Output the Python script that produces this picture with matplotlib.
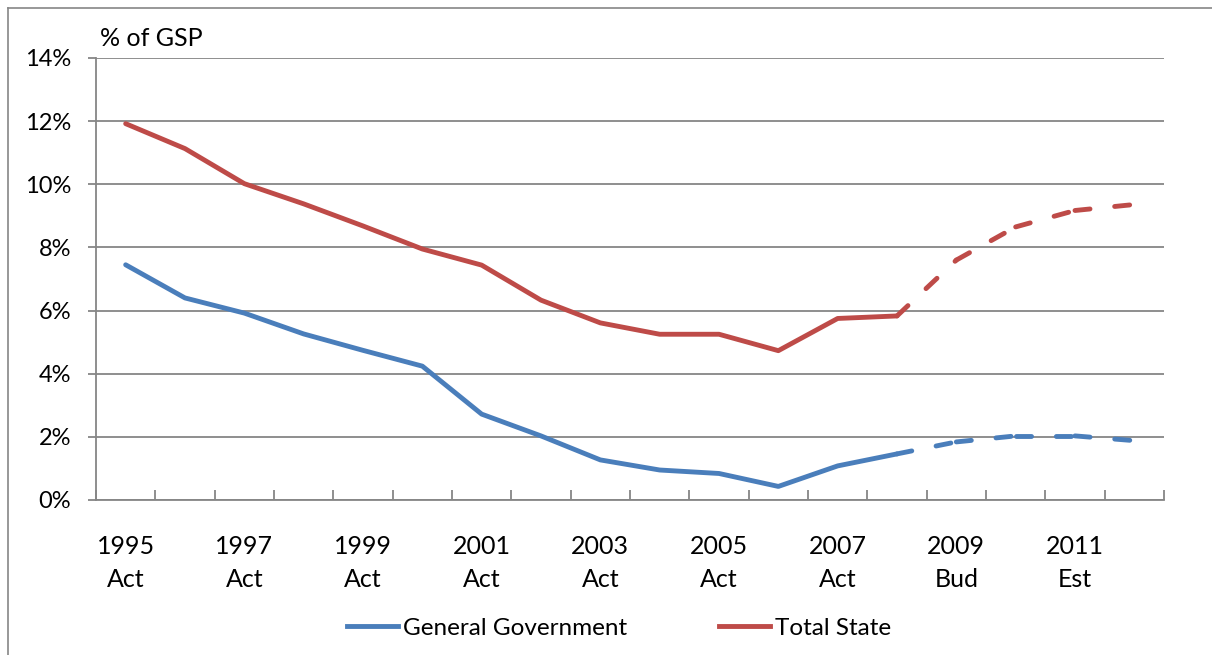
import matplotlib
matplotlib.use("Agg")
import matplotlib.pyplot as plt
from matplotlib.lines import Line2D

years = list(range(1995, 2013))
tick_labels = ["1995\nAct", "1997\nAct", "1999\nAct", "2001\nAct", "2003\nAct",
               "2005\nAct", "2007\nAct", "2009\nBud", "2011\nEst"]
general_government = [7.45, 6.4, 5.92, 5.26, 4.74, 4.24, 2.72, 2.03, 1.27, 0.95,
                      0.84, 0.43, 1.08, 1.46, 1.84, 2.03, 2.03, 1.88]
total_state = [11.92, 11.13, 10.02, 9.38, 8.68, 7.95, 7.44, 6.33, 5.61, 5.25,
               5.25, 4.73, 5.75, 5.83, 7.6, 8.65, 9.17, 9.36]
forecast_from = 2008

BLUE = "#4A7EBB"
RED = "#BE4B48"
GRID = "#868686"
LW = 3.5

plt.rcParams["font.family"] = ["Lato", "DejaVu Sans"]

fig = plt.figure(figsize=(12.12, 6.55), dpi=100)
ax = fig.add_axes([96 / 1212, 1 - 500 / 655, (1164 - 96) / 1212, (500 - 58) / 655])

# outer chart-area border
fig.add_artist(Line2D([8 / 1212, 8 / 1212], [0, 1 - 8 / 655], color=GRID, lw=1.2,
                      transform=fig.transFigure))
fig.add_artist(Line2D([8 / 1212, 1], [1 - 8 / 655, 1 - 8 / 655], color=GRID, lw=1.2,
                      transform=fig.transFigure))

x = list(range(len(years)))
k = years.index(forecast_from)

for vals, col in ((general_government, BLUE), (total_state, RED)):
    ax.plot(x[:k + 1], vals[:k + 1], color=col, lw=LW, solid_capstyle="round",
            solid_joinstyle="round", zorder=3)
    # projected years: dash pattern restarts at every data point
    for i in range(k, len(x) - 1):
        ax.plot(x[i:i + 2], vals[i:i + 2], color=col, lw=LW, dashes=(3.1, 5.1),
                dash_capstyle="round", zorder=3)

ax.set_xlim(-0.5, len(years) - 0.5)
ax.set_ylim(0, 14)
ax.set_yticks(range(0, 15, 2))
ax.set_yticklabels([f"{v}%" for v in range(0, 15, 2)], fontsize=17)
ax.yaxis.grid(True, color=GRID, lw=1.3)
ax.set_axisbelow(True)

ax.set_xticks([i - 0.5 for i in range(len(years) + 1)])
ax.set_xticklabels([])
ax.set_xticks(x[::2], minor=True)
ax.set_xticklabels(tick_labels, minor=True, fontsize=18, linespacing=1.55)
ax.tick_params(axis="x", which="major", direction="in", length=7, width=1.3, color=GRID)
ax.tick_params(axis="x", which="minor", length=0, pad=25)
ax.tick_params(axis="y", direction="out", length=6, width=1.3, color=GRID, pad=12)

for s in ("top", "right"):
    ax.spines[s].set_visible(False)
for s in ("left", "bottom"):
    ax.spines[s].set_color(GRID)
    ax.spines[s].set_linewidth(1.3)

fig.text(100 / 1212, 1 - 38 / 655, "% of GSP", fontsize=18, va="center", ha="left")

handles = [Line2D([], [], color=BLUE, lw=LW), Line2D([], [], color=RED, lw=LW)]
fig.legend(handles, ["General Government", "Total State"], loc="center",
           bbox_to_anchor=(619 / 1212, 1 - 628 / 655), ncol=2, frameon=False,
           fontsize=17.5, handlelength=2.1, handletextpad=0.2, columnspacing=3.8)

fig.savefig("out.png", dpi=100, facecolor="white")
